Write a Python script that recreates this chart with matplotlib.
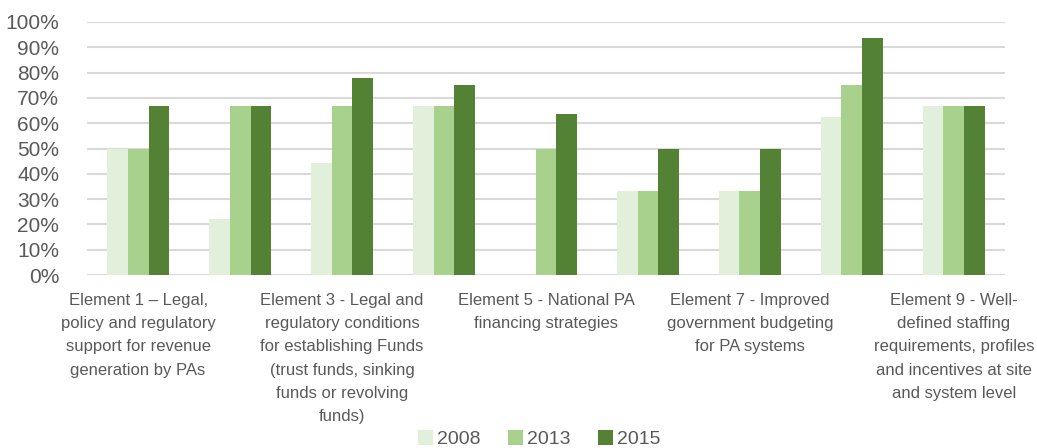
"""Grouped bar chart: PA financing scorecard elements, 2008 / 2013 / 2015."""

import matplotlib

matplotlib.use("Agg")
import matplotlib.pyplot as plt
import numpy as np
from matplotlib.ticker import PercentFormatter

plt.rcParams["font.family"] = ["Liberation Sans", "DejaVu Sans"]

YEARS = ["2008", "2013", "2015"]
COLORS = ["#e2efda", "#a9d18e", "#548235"]

# Only the odd elements carry a label on the axis (Excel skips every other one)
ELEMENT_LABELS = [
    "Element 1 \u2013 Legal,\npolicy and regulatory\nsupport for revenue\ngeneration by PAs",
    "",
    "Element 3 - Legal and\nregulatory conditions\nfor establishing Funds\n(trust funds, sinking\nfunds or revolving\nfunds)",
    "",
    "Element 5 - National PA\nfinancing strategies",
    "",
    "Element 7 - Improved\ngovernment budgeting\nfor PA systems",
    "",
    "Element 9 - Well-\ndefined staffing\nrequirements, profiles\nand incentives at site\nand system level",
]

SCORES_2008 = [50.0, 22.2, 44.4, 66.7, 0.0, 33.3, 33.3, 62.5, 66.7]
SCORES_2013 = [50.0, 66.7, 66.7, 66.7, 50.0, 33.3, 33.3, 75.0, 66.7]
SCORES_2015 = [66.7, 66.7, 77.8, 75.0, 63.6, 50.0, 50.0, 93.8, 66.7]

TEXT_COLOR = "#595959"

fig = plt.figure(figsize=(10.37, 4.48), dpi=100)
ax = fig.add_axes([0.084, 0.386, 0.885, 0.565])

x = np.arange(len(ELEMENT_LABELS))
width = 0.205
series = [SCORES_2008, SCORES_2013, SCORES_2015]
for i, (year, vals, color) in enumerate(zip(YEARS, series, COLORS)):
    ax.bar(x + (i - 1) * width, vals, width, label=year, color=color,
           edgecolor="none", zorder=3)

ax.set_xlim(-0.5, len(ELEMENT_LABELS) - 0.5)
ax.set_ylim(0, 100)
ax.set_yticks(np.arange(0, 101, 10))
ax.yaxis.set_major_formatter(PercentFormatter(decimals=0))
ax.grid(axis="y", color="#d9d9d9", linewidth=1.5, zorder=0)
for side in ["top", "right", "left", "bottom"]:
    ax.spines[side].set_visible(False)

ax.tick_params(axis="y", length=0, pad=20, labelsize=15, labelcolor=TEXT_COLOR)

ticks = [i for i, lab in enumerate(ELEMENT_LABELS) if lab]
ax.set_xticks(ticks)
ax.set_xticklabels([ELEMENT_LABELS[i] for i in ticks], fontsize=12,
                   color=TEXT_COLOR, linespacing=1.68, va="top")
ax.tick_params(axis="x", length=0, pad=13)

handles, labels = ax.get_legend_handles_labels()
fig.legend(handles, labels, loc="lower center", bbox_to_anchor=(0.52, -0.04),
           ncol=3, frameon=False, handlelength=0.8, handleheight=0.8,
           handletextpad=0.2, columnspacing=1.4,
           prop={"size": 14}, labelcolor=TEXT_COLOR)

fig.savefig("out.png", dpi=100)
